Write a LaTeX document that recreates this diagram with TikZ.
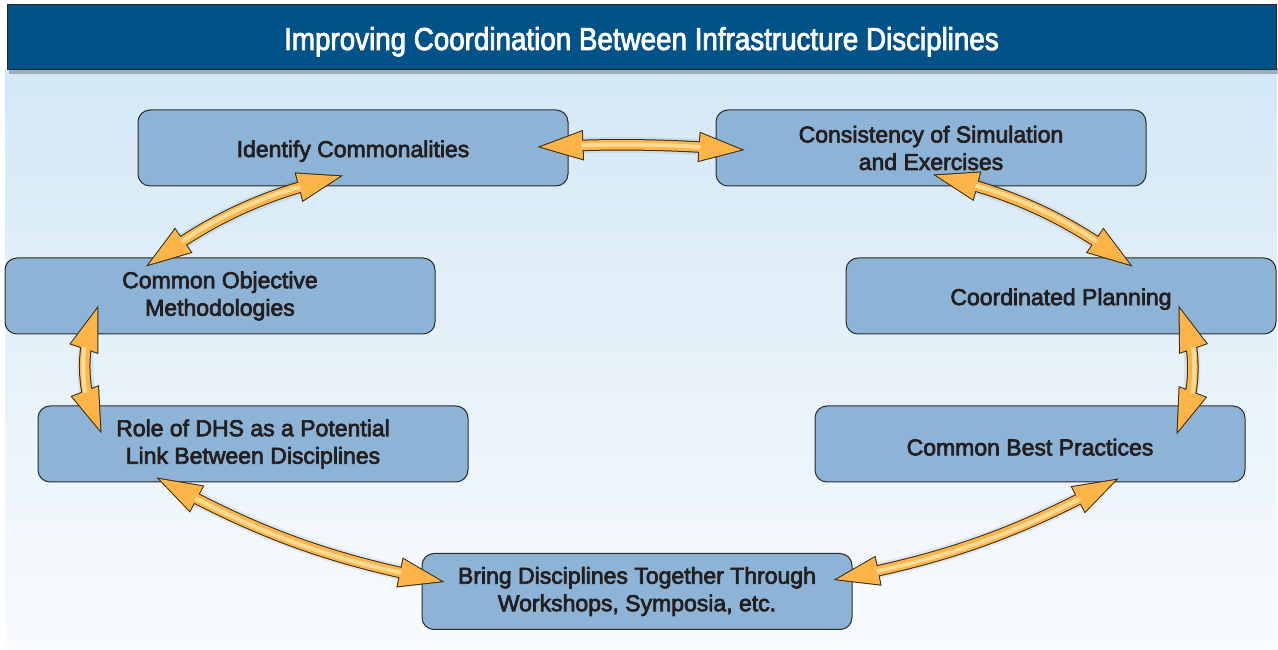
\documentclass[tikz,border=0pt]{standalone}
\usepackage{fontspec}
\setmainfont{Liberation Sans}[FakeBold=3]
\newfontfamily\titlefont{Liberation Sans}[FakeStretch=0.876,FakeBold=2.5]
\usetikzlibrary{calc,decorations.markings}

\definecolor{bgtop}{HTML}{D3E8F6}
\definecolor{bgbot}{HTML}{F9FBFD}
\definecolor{titlebg}{HTML}{005288}
\definecolor{boxfill}{HTML}{8DB4D6}
\definecolor{boxline}{HTML}{2B2B2B}
\definecolor{txt}{HTML}{231F20}
\definecolor{arrline}{HTML}{3A2A12}
\definecolor{arrfill}{HTML}{FDB54A}
\definecolor{arrlight}{HTML}{FFDA92}

\tikzset{
  stagebox/.style={draw=boxline, line width=1pt, fill=boxfill, rounded corners=12pt,
    minimum width=430pt, minimum height=76pt, inner sep=0pt, align=center,
    font=\fontsize{23}{27.5}\selectfont, text=txt,
    execute at begin node={\rule{0pt}{23pt}}},
  headout/.style={decorate, decoration={markings,
    mark=at position 0 with {\fill[arrline] (0pt,0pt) -- (46pt,15.3pt) -- (46pt,-15.3pt) -- cycle;}}},
  headin/.style={decorate, decoration={markings,
    mark=at position 0 with {\fill[arrfill] (3.2pt,0pt) -- (45pt,13.9pt) -- (45pt,-13.9pt) -- cycle;}}},
  arrshadow/.style={line width=16pt, black, opacity=0.07, shorten <=22pt, shorten >=22pt, shift={(3,-5)}},
  arrshadowb/.style={line width=11pt, black, opacity=0.08, shorten <=26pt, shorten >=26pt, shift={(2,-4)}},
  arroutline/.style={line width=11.5pt, arrline, shorten <=28pt, shorten >=28pt},
  arrbody/.style={line width=9.5pt, arrfill, shorten <=28pt, shorten >=28pt},
  arrhigh/.style={line width=4pt, arrlight, shorten <=44pt, shorten >=44pt},
}

% #1 start, #2 end, #3 bend forward, #4 same bend seen backward
\newcommand\fatarrow[4]{%
  \draw[arrshadow] (#1) to[#3] (#2);
  \draw[arrshadowb] (#1) to[#3] (#2);
  \draw[arroutline] (#1) to[#3] (#2);
  \path[headout] (#1) to[#3] (#2);
  \path[headout] (#2) to[#4] (#1);
  \draw[arrbody] (#1) to[#3] (#2);
  \path[headin] (#1) to[#3] (#2);
  \path[headin] (#2) to[#4] (#1);
  \draw[arrhigh] (#1) to[#3] (#2);
}

\begin{document}
\begin{tikzpicture}[x=1pt,y=1pt]
\useasboundingbox (0,0) rectangle (1278,650);
% background
\shade[top color=bgtop, bottom color=bgbot] (5,0) rectangle (1277,580);
% title bar
\fill[black, opacity=0.25] (9,576) rectangle (1278,582);
\node[draw=boxline, line width=1pt, fill=titlebg, minimum width=1269pt, minimum height=65pt, inner sep=0pt] (bar) at (641.5,612.5) {};
\node[anchor=base, text=white, font=\titlefont\fontsize{31.7}{36}\selectfont, inner sep=0pt] (title) at (641.5,600) {Improving Coordination Between Infrastructure Disciplines};

% boxes
\node[stagebox] (id) at (353,502) {Identify Commonalities};
\node[stagebox] (cs) at (931,502) {Consistency of Simulation\\and Exercises};
\node[stagebox] (co) at (220,354) {Common Objective\\Methodologies};
\node[stagebox] (cp) at (1061,354) {Coordinated Planning};
\node[stagebox] (rd) at (253,206) {Role of DHS as a Potential\\Link Between Disciplines};
\node[stagebox] (bp) at (1030,206) {Common Best Practices};
\node[stagebox] (bd) at (637,58.5) {Bring Disciplines Together Through\\Workshops, Symposia, etc.};

% arrows
\fatarrow{$(id.east)+(-31,1)$}{$(cs.west)+(29,-2)$}{bend left=3}{bend right=3}
\fatarrow{$(id.south)+(-10,11)$}{$(co.north)+(-74,-9)$}{bend right=10}{bend left=10}
\fatarrow{$(co.south west)+(94,29)$}{$(rd.north west)+(64,-28)$}{bend right=20}{bend left=20}
\fatarrow{$(rd.south west)+(119,5)$}{$(bd.west)+(23,9.5)$}{bend right=8}{bend left=8}
\fatarrow{$(bd.east)+(-19,11.5)$}{$(bp.south east)+(-127,4)$}{bend right=8}{bend left=8}
\fatarrow{$(bp.north east)+(-69,-29)$}{$(cp.south east)+(-98,29)$}{bend right=20}{bend left=20}
\fatarrow{$(cp.north east)+(-144,-9)$}{$(cs.south)+(2,12)$}{bend right=10}{bend left=10}
\end{tikzpicture}
\end{document}
